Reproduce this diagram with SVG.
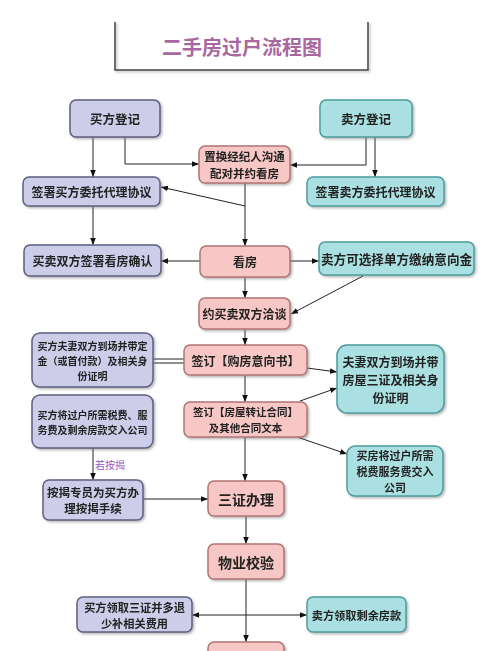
<svg xmlns="http://www.w3.org/2000/svg" width="500" height="651" viewBox="0 0 500 651">
<style>
.lav{fill:#cdcdea;stroke:#5e5e80;stroke-width:1.5}
.pink{fill:#f6c7c4;stroke:#b27676;stroke-width:1.5}
.teal{fill:#aae0e1;stroke:#4c9d9e;stroke-width:1.5}
.t{font-family:"Noto Sans CJK SC","Noto Sans",sans-serif;font-weight:bold;fill:#222;text-anchor:middle;dominant-baseline:central}
.c line,.c path,.c polyline{stroke:#222;stroke-width:1;fill:none}
.lbl{font-family:"Noto Sans CJK SC","Noto Sans",sans-serif;fill:#9a55c2;font-size:10px;text-anchor:middle;dominant-baseline:central}
</style>
<defs>
<marker id="ah" viewBox="0 0 10 10" refX="10" refY="5" markerWidth="7" markerHeight="7" orient="auto-start-reverse" markerUnits="userSpaceOnUse">
<path d="M0,1 L10,5 L0,9 Z" fill="#111"/>
</marker>
<filter id="sh" x="-10%" y="-10%" width="130%" height="140%">
<feDropShadow dx="1.5" dy="1.5" stdDeviation="1" flood-color="#777" flood-opacity="0.55"/>
</filter>
</defs>
<rect width="500" height="651" fill="#fff"/>
<g id="title">
<path d="M115,22 V70 H368 V22" fill="none" stroke="#444" stroke-width="1.5" filter="url(#sh)"/>
<text x="242" y="46" font-family="'Noto Sans CJK SC',sans-serif" font-weight="bold" font-size="20" fill="#a8689f" text-anchor="middle" dominant-baseline="central">二手房过户流程图</text>
</g>
<g class="c" id="connectors">
<line x1="93" y1="137" x2="93" y2="177" marker-end="url(#ah)"/>
<polyline points="125,137 125,164 199,164" marker-end="url(#ah)"/>
<polyline points="366,137 366,165 290,165" marker-end="url(#ah)"/>
<line x1="375" y1="137" x2="375" y2="177" marker-end="url(#ah)"/>
<line x1="245" y1="183" x2="245" y2="246" marker-end="url(#ah)"/>
<line x1="245" y1="206" x2="161" y2="187" marker-end="url(#ah)"/>
<line x1="93" y1="206" x2="93" y2="245" marker-end="url(#ah)"/>
<line x1="200" y1="261" x2="161" y2="261" marker-end="url(#ah)"/>
<line x1="290" y1="261" x2="319" y2="261" marker-end="url(#ah)"/>
<line x1="363" y1="276" x2="291" y2="314" marker-end="url(#ah)"/>
<line x1="245" y1="277" x2="245" y2="298" marker-end="url(#ah)"/>
<line x1="245" y1="329" x2="245" y2="345" marker-end="url(#ah)"/>
<line x1="153" y1="359" x2="184" y2="359"/>
<line x1="153" y1="363" x2="184" y2="363"/>
<line x1="245" y1="375" x2="245" y2="402" marker-end="url(#ah)"/>
<line x1="307" y1="368" x2="337" y2="372" marker-end="url(#ah)"/>
<line x1="300" y1="401" x2="337" y2="388" marker-end="url(#ah)"/>
<line x1="297" y1="437" x2="347" y2="454" marker-end="url(#ah)"/>
<line x1="245" y1="437" x2="245" y2="481" marker-end="url(#ah)"/>
<line x1="93" y1="448" x2="93" y2="480" marker-end="url(#ah)"/>
<line x1="143" y1="499" x2="208" y2="499" marker-end="url(#ah)"/>
<line x1="246" y1="516" x2="246" y2="544" marker-end="url(#ah)"/>
<line x1="246" y1="579" x2="246" y2="642" marker-end="url(#ah)"/>
<line x1="192" y1="615" x2="307" y2="615" marker-start="url(#ah)" marker-end="url(#ah)"/>
<text class="lbl" x="110" y="464">若按揭</text>
</g>
<g id="n1" filter="url(#sh)"><rect class="lav" x="70" y="100" width="90" height="37" rx="6"/><text class="t" x="115" y="118.5" font-size="12.5">买方登记</text></g>
<g id="n2" filter="url(#sh)"><rect class="teal" x="320" y="100" width="92" height="37" rx="6"/><text class="t" x="366" y="118.5" font-size="12.5">卖方登记</text></g>
<g id="n3" filter="url(#sh)"><rect class="pink" x="199" y="146" width="91" height="37" rx="6"/><text class="t" x="244.5" y="156.2" font-size="11.5">置换经纪人沟通<tspan x="244.5" dy="16.8">配对并约看房</tspan></text></g>
<g id="n4" filter="url(#sh)"><rect class="lav" x="23" y="177" width="137" height="29" rx="6"/><text class="t" x="91.5" y="191.5" font-size="12">签署买方委托代理协议</text></g>
<g id="n5" filter="url(#sh)"><rect class="teal" x="307" y="177" width="137" height="29" rx="6"/><text class="t" x="375.5" y="191.5" font-size="12">签署卖方委托代理协议</text></g>
<g id="n6" filter="url(#sh)"><rect class="lav" x="24" y="245" width="137" height="31" rx="6"/><text class="t" x="92.5" y="260.5" font-size="12">买卖双方签署看房确认</text></g>
<g id="n7" filter="url(#sh)"><rect class="pink" x="200" y="246" width="90" height="31" rx="6"/><text class="t" x="245" y="261.5" font-size="12">看房</text></g>
<g id="n8" filter="url(#sh)"><rect class="teal" x="319" y="242" width="155" height="33" rx="6"/><text class="t" x="396.5" y="258.5" font-size="12.6">卖方可选择单方缴纳意向金</text></g>
<g id="n9" filter="url(#sh)"><rect class="pink" x="199" y="298" width="91" height="31" rx="6"/><text class="t" x="244.5" y="313.5" font-size="12">约买卖双方洽谈</text></g>
<g id="n10" filter="url(#sh)"><rect class="lav" x="32" y="333" width="121" height="54" rx="8"/><text class="t" x="92.5" y="345.4" font-size="10">买方夫妻双方到场并带定<tspan x="92.5" dy="14.6">金（或首付款）及相关身</tspan><tspan x="92.5" dy="14.6">份证明</tspan></text></g>
<g id="n11" filter="url(#sh)"><rect class="pink" x="184" y="345" width="123" height="30" rx="6"/><text class="t" x="245.5" y="360" font-size="12">签订【购房意向书】</text></g>
<g id="n12" filter="url(#sh)"><rect class="teal" x="337" y="345" width="107" height="68" rx="10"/><text class="t" x="390.5" y="361.5" font-size="12">夫妻双方到场并带<tspan x="390.5" dy="17.5">房屋三证及相关身</tspan><tspan x="390.5" dy="17.5">份证明</tspan></text></g>
<g id="n13" filter="url(#sh)"><rect class="lav" x="32" y="395" width="121" height="53" rx="8"/><text class="t" x="92.5" y="414.4" font-size="10">买方将过户所需税费、服<tspan x="92.5" dy="14.6">务费及剩余房款交入公司</tspan></text></g>
<g id="n14" filter="url(#sh)"><rect class="pink" x="184" y="402" width="123" height="35" rx="6"/><text class="t" x="245.5" y="411.9" font-size="10.5">签订【房屋转让合同】<tspan x="245.5" dy="15.4">及其他合同文本</tspan></text></g>
<g id="n15" filter="url(#sh)"><rect class="teal" x="347" y="446" width="96" height="50" rx="8"/><text class="t" x="395" y="455" font-size="11">买房将过户所需<tspan x="395" dy="16.1">税费服务费交入</tspan><tspan x="395" dy="16.1">公司</tspan></text></g>
<g id="n16" filter="url(#sh)"><rect class="lav" x="43" y="480" width="100" height="40" rx="6"/><text class="t" x="93" y="491.6" font-size="11.5">按揭专员为买方办<tspan x="93" dy="16.8">理按揭手续</tspan></text></g>
<g id="n17" filter="url(#sh)"><rect class="pink" x="208" y="481" width="76" height="35" rx="6"/><text class="t" x="246" y="498.5" font-size="14">三证办理</text></g>
<g id="n18" filter="url(#sh)"><rect class="pink" x="208" y="544" width="76" height="35" rx="6"/><text class="t" x="246" y="561.5" font-size="14">物业校验</text></g>
<g id="n19" filter="url(#sh)"><rect class="lav" x="77" y="597" width="115" height="35" rx="6"/><text class="t" x="134.5" y="606.5" font-size="11.2">买方领取三证并多退<tspan x="134.5" dy="16.4">少补相关费用</tspan></text></g>
<g id="n20" filter="url(#sh)"><rect class="teal" x="307" y="597" width="99" height="35" rx="6"/><text class="t" x="356.5" y="614.5" font-size="11.2">卖方领取剩余房款</text></g>
<g id="n21" filter="url(#sh)"><rect class="pink" x="208" y="642" width="76" height="30" rx="6"/></g>
</svg>
